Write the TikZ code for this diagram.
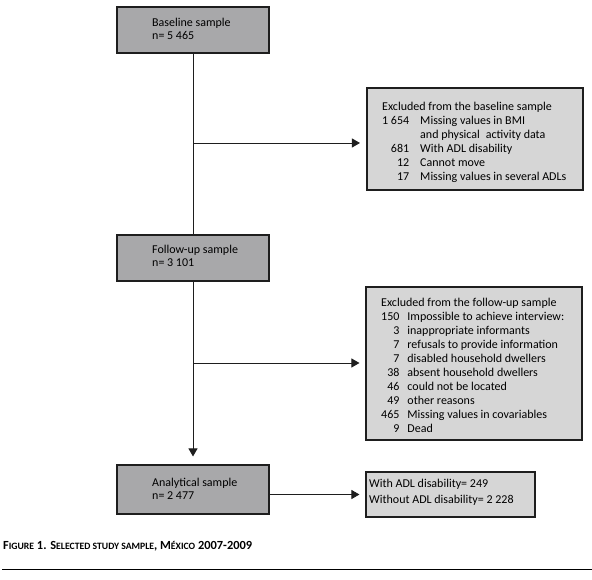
\documentclass[tikz,border=0pt]{standalone}
\usepackage{fontspec}
\setmainfont{Carlito}
\usetikzlibrary{arrows.meta}
\definecolor{mainfill}{RGB}{168,168,170}
\definecolor{exfill}{RGB}{214,214,214}
\definecolor{edge}{RGB}{30,30,30}
\newcommand\fsc[2]{#1{\fontsize{9.7}{12}\selectfont #2}}
\begin{document}
\begin{tikzpicture}[x=1pt,y=-1pt,
  mainbox/.style={draw=edge, line width=1.1pt, fill=mainfill, minimum width=152pt, inner sep=0pt},
  exbox/.style={draw=edge, line width=1.1pt, fill=exfill, inner sep=0pt},
  txt/.style={anchor=base west, inner sep=0pt, font=\fontsize{12}{13}\selectfont},
  conn/.style={draw=edge, line width=0.9pt},
  arr/.style={conn, -{Triangle[length=8pt,width=9pt]}}]
\useasboundingbox (0,0) rectangle (592,580);

% main boxes
\node[mainbox, minimum height=46pt] (base) at (193,30) {};
\node[txt] (baset) at (152,27) {\begin{tabular}[t]{@{}l@{}}Baseline sample\\ n= 5 465\end{tabular}};

\node[mainbox, minimum height=46pt] (follow) at (193,258) {};
\node[txt] (followt) at (152,254) {\begin{tabular}[t]{@{}l@{}}Follow-up sample\\ n= 3 101\end{tabular}};

\node[mainbox, minimum height=49pt] (anal) at (193,489.5) {};
\node[txt] (analt) at (152,486) {\begin{tabular}[t]{@{}l@{}}Analytical sample\\ n= 2 477\end{tabular}};

% exclusion boxes
\node[exbox, minimum width=216pt, minimum height=102pt] (ex1) at (475,139) {};
\node[txt, font=\fontsize{12}{14}\selectfont] (ex1t) at (382,111) {\begin{tabular}[t]{@{}r@{\hspace{11pt}}l@{}}
\multicolumn{2}{@{}l@{}}{Excluded from the baseline sample}\\
1 654 & Missing values in BMI\\
 & and physical\enspace activity data\\
681 & With ADL disability\\
12 & Cannot move\\
17 & Missing values in several ADLs
\end{tabular}};

\node[exbox, minimum width=216pt, minimum height=153pt] (ex2) at (474,363.5) {};
\node[txt, font=\fontsize{12}{14.1}\selectfont] (ex2t) at (381,306) {\begin{tabular}[t]{@{}r@{\hspace{8pt}}l@{}}
\multicolumn{2}{@{}l@{}}{Excluded from the follow-up sample}\\
150 & Impossible to achieve interview:\\
3 & inappropriate informants\\
7 & refusals to provide information\\
7 & disabled household dwellers\\
38 & absent household dwellers\\
46 & could not be located\\
49 & other reasons\\
465 & Missing values in covariables\\
9 & Dead
\end{tabular}};

\node[exbox, minimum width=169pt, minimum height=45pt] (res) at (450.5,494.5) {};
\node[txt, font=\fontsize{12}{16}\selectfont] (rest) at (369,487) {\begin{tabular}[t]{@{}l@{}}With ADL disability= 249\\ Without ADL disability= 2 228\end{tabular}};

% connectors
\draw[conn] (base.south) -- (follow.north);
\coordinate (j1) at (193,143);
\coordinate (j2) at (193,363);
\draw[arr, shorten >=6.5pt] (j1) -- (j1 -| ex1.west);
\draw[arr, shorten >=6pt] (j2) -- (j2 -| ex2.west);
\draw[arr, shorten >=8pt] (follow.south) -- (anal.north);
\draw[arr, shorten >=6pt] (anal.east |- res.west) -- (res.west);

% caption
\node[anchor=base west, inner sep=0pt, font=\fontsize{12.4}{13}\selectfont\bfseries] (cap) at (3,549)
  {\fsc{F}{IGURE} 1. \fsc{S}{ELECTED STUDY SAMPLE}, \fsc{M}{ÉXICO} 2007-2009};
\coordinate (r1) at (2,569);
\coordinate (r2) at (592,569);
\draw[line width=1pt] (r1) -- (r2);
\end{tikzpicture}
\end{document}
